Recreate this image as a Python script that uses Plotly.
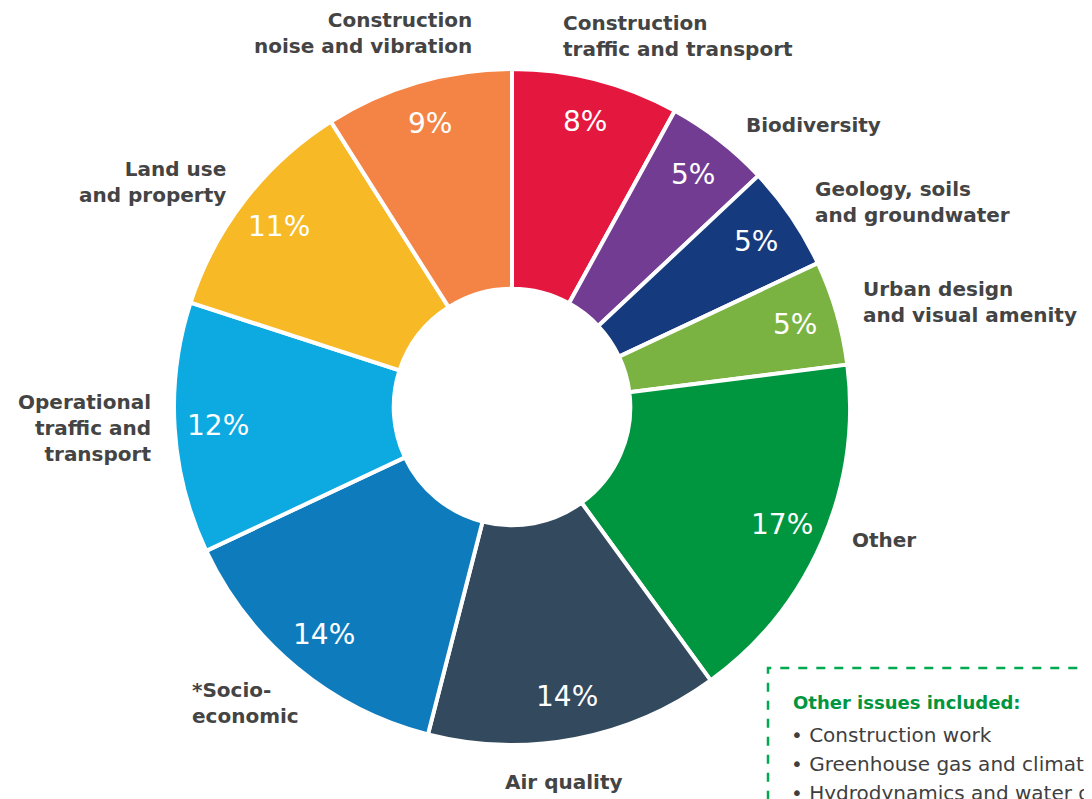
import math
import plotly.graph_objects as go

labels = ["Construction<br>traffic and transport", "Biodiversity", "Geology, soils<br>and groundwater",
          "Urban design<br>and visual amenity", "Other", "Air quality", "*Socio-<br>economic",
          "Operational<br>traffic and<br>transport", "Land use<br>and property",
          "Construction<br>noise and vibration"]
values = [8, 5, 5, 5, 17, 14, 14, 12, 11, 9]
colors = ["#E4173E", "#733C93", "#163A7E", "#7BB342", "#009640", "#33495D",
          "#0E7CBC", "#0DA9E1", "#F7BA26", "#F48445"]

other_title = "Other issues included:"
other_items = ["Construction work", "Greenhouse gas and climate change", "Hydrodynamics and water quality"]

W, H = 1092, 799
OFF = 8  # page body offset
CX, CY, R = 512 - OFF, 407 - OFF, 338
HOLE = 0.35

# label anchor positions (px in reference) and alignment
label_pos = [
    (561, 36, "left"), (744, 125, "left"), (813, 202, "left"), (861, 302, "left"),
    (850, 540, "left"), (503, 782, "left"), (190, 703, "left"), (153, 428, "right"),
    (228, 182, "right"), (474, 33, "right"),
]

FONT = "DejaVu Sans"
fig = go.Figure(go.Pie(
    labels=labels, values=values, sort=False, direction="clockwise", rotation=0,
    hole=HOLE, marker=dict(colors=colors, line=dict(color="white", width=4)),
    textinfo="none", hoverinfo="label+percent",
    domain=dict(x=[(CX - R) / W, (CX + R) / W], y=[1 - (CY + R) / H, 1 - (CY - R) / H]),
    showlegend=False,
))

def px2paper(px, py):
    return (px - OFF) / W, 1 - (py - OFF) / H

ann = []
total = sum(values)
cum = 0
for v in values:
    mid = (cum + v / 2) / total * 2 * math.pi
    cum += v
    rr = 0.872 * R
    px = CX + rr * math.sin(mid)
    py = CY - rr * math.cos(mid)
    ann.append(dict(x=px / W, y=1 - py / H, xref="paper", yref="paper", text=f"{v}%",
                    showarrow=False, font=dict(family=FONT, size=28, color="white"),
                    xanchor="center", yanchor="middle"))

for lab, (px, py, al) in zip(labels, label_pos):
    x, y = px2paper(px, py)
    ann.append(dict(x=x, y=y, xref="paper", yref="paper", text=lab,
                    showarrow=False, align=al, xanchor=al, yanchor="middle",
                    font=dict(family=FONT, size=20, color="#444444", weight="bold")))

x, y = px2paper(791, 702)
ann.append(dict(x=x, y=y, xref="paper", yref="paper", text="<b>" + other_title + "</b>",
                showarrow=False, xanchor="left", yanchor="middle",
                font=dict(family=FONT, size=18, color="#009640")))
for i, it in enumerate(other_items):
    x, y = px2paper(789, 735 + 29 * i)
    ann.append(dict(x=x, y=y, xref="paper", yref="paper", text="• " + it,
                    showarrow=False, xanchor="left", yanchor="middle",
                    font=dict(family=FONT, size=20, color="#3F3F3F")))

bx0, by1 = px2paper(768, 668)
fig.update_layout(
    width=W, height=H, margin=dict(l=0, r=0, t=0, b=0),
    paper_bgcolor="white", plot_bgcolor="white",
    annotations=ann,
    shapes=[dict(type="rect", xref="paper", yref="paper", x0=bx0, x1=1.1, y0=-0.1, y1=by1,
                 line=dict(color="#00A84F", width=2.5, dash="dash"))],
)
fig.write_html("out.html")
